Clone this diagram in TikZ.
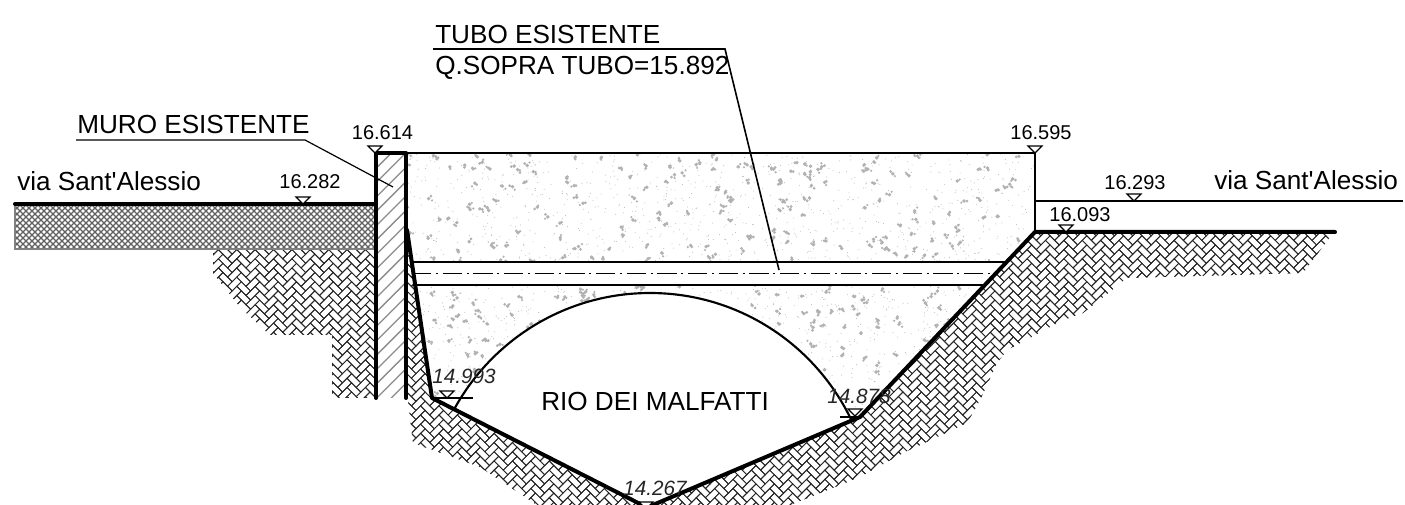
\documentclass[tikz,border=0pt]{standalone}
\usepackage{fontspec}
\setmainfont{Liberation Sans}[Ligatures=TeXOff]
\tikzset{
  x=0.75pt,y=-0.75pt,
  heavy/.style={line width=3pt,line cap=round,line join=round,black},
  medium/.style={line width=1.6pt,black},
  fine/.style={line width=0.9pt,black},
  brick/.style={line width=0.62pt,black!85},
  lab/.style={inner sep=0pt,anchor=base west,font=\fontsize{19.6pt}{22pt}\selectfont},
  elev/.style={inner sep=0pt,anchor=center,font=\fontsize{15pt}{17pt}\selectfont},
  elevit/.style={inner sep=0pt,anchor=center,text=black!85,font=\fontsize{15.5pt}{17pt}\selectfont\itshape},
  levmark/.style={line width=0.9pt,black,fill=white},
}
\newcommand{\levtri}[2]{\draw[levmark] ({#1-7},{#2-7}) -- ({#1+7},{#2-7}) -- (#1,#2) -- cycle;}
\newcommand{\bricks}{%
  \foreach \i in {0,...,62}{\foreach \j in {0,...,33}{%
    \path[brick,draw] ({200+18.38*\i},{222+9.19*\j}) -- ++(9.19,9.19) -- ++(4.6,-4.6) -- ++(-9.19,-9.19) -- cycle;
    \path[brick,draw] ({200+18.38*\i+9.19},{222+9.19*\j+9.19}) -- ++(9.19,-9.19) -- ++(4.6,4.6) -- ++(-9.19,9.19) -- cycle;
  }}}
\begin{document}
\begin{tikzpicture}
\useasboundingbox (0,0) rectangle (1405,505);
\fill[white] (0,0) rectangle (1405,505);
% key points
\coordinate (wallTL) at (376,153);
\coordinate (wallTR) at (406,153);
\coordinate (wallBL) at (376,398);
\coordinate (wallBR) at (406,398);
\coordinate (kink) at (407,230);
\coordinate (bankL) at (432,398);
\coordinate (apex) at (647,507.5);
\coordinate (bankR) at (860,417);
\coordinate (crest) at (1035,232);
\coordinate (crestTop) at (1035,153);
\coordinate (toeEnd) at (1335,232);
% concrete
\begin{scope}
\clip (wallTR) -- (crestTop) -- (crest) -- (bankR) -- (apex) -- (bankL) -- (kink) -- cycle;
\pgfmathsetseed{11}
\fill[black!28] foreach \n in {1,...,2200}{ ({405+rnd*635},{153+rnd*270}) circle[radius=0.5] };
\fill[black!30] foreach \n in {1,...,480}{
  ({405+rnd*635},{153+rnd*270}) coordinate (p)
  (p) circle[radius=1.9]
  (p) ++({rnd*6-3},{rnd*6-3}) circle[radius=1.5]
  (p) ++({rnd*7-3.5},{rnd*7-3.5}) circle[radius=1.2] };
\fill[white] (650,516) circle[radius=223];
\draw[medium] (650,516) circle[radius=223];
\end{scope}
% pipe
\coordinate (pipeTL) at (411,262);
\coordinate (pipeTR) at (1007,262);
\coordinate (pipeBL) at (413,285);
\coordinate (pipeBR) at (985,285);
\coordinate (pipeCL) at (412,273.5);
\coordinate (pipeCR) at (997,273.5);
\fill[white] (pipeTL) -- (pipeTR) -- (pipeBR) -- (pipeBL) -- cycle;
\draw[medium] (pipeTL) -- (pipeTR);
\draw[medium] (pipeBL) -- (pipeBR);
\draw[fine,dash pattern=on 14.5pt off 3.5pt on 1.5pt off 3.5pt] (pipeCL) -- (pipeCR);
% soil hatch
\begin{scope}
\clip (213,250) -- (213,273) -- (240,307) -- (270,335) -- (332,335) -- (332,398) -- (375,398) -- (375,250) -- cycle
 (408,235) -- (408,400) -- (413,443) -- (433,450) -- (480,467) -- (537,505) -- (790,505) -- (860,477) -- (903,453) -- (967,423) -- (980,400) -- (997,363) -- (1007,350) -- (1063,320) -- (1083,313) -- (1127,278) -- (1303,273) -- (1333,233) -- (crest) -- (bankR) -- (apex) -- (bankL) -- cycle;
\bricks
\end{scope}
% road
\begin{scope}
\clip (15,204) rectangle (375,249);
\foreach \k in {0,...,72}{
  \draw[line width=0.95pt,black!62] ({15-50+\k*6},204) -- ++(50,50);
  \draw[line width=0.95pt,black!62] ({15-50+\k*6},254) -- ++(50,-50);
}
\end{scope}
\draw[line width=1pt,black!50] (15,204) -- (15,249) -- (375,249);
% wall hatch
\begin{scope}
\clip (wallTL) rectangle (wallBR);
\foreach \k in {0,...,22}{
  \draw[line width=1pt,black!45] ({120+\k*14.4},410) -- ++(270,-270);
}
\end{scope}
% main outlines
\draw[heavy] (wallBL) -- (wallTL) -- (wallTR) -- (wallBR);
\draw[line width=2pt,black] (wallTR) -- (crestTop) -- (crest);
\draw[heavy] (15,204) -- (wallTL |- 0,204);
\draw[heavy] (kink) -- (bankL) -- (apex) -- (bankR) -- (crest) -- (toeEnd);
\draw[line width=2pt,black] (1035,201) -- (1403,201);
% leaders
\coordinate (muroA) at (76,140); \coordinate (muroB) at (305,140); \coordinate (muroC) at (393,187);
\draw[fine] (muroA) -- (muroB) -- (muroC);
\coordinate (tuboA) at (433,49); \coordinate (tuboB) at (725,49); \coordinate (tuboC) at (779,270);
\draw[line width=1.2pt] (tuboA) -- (tuboB) -- (tuboC);
% level marks
\levtri{375}{153}
\levtri{303}{204}
\levtri{1035}{153}
\levtri{1134}{201}
\levtri{1066}{232}
\levtri{447}{398}
\draw[fine] (bankL) -- (473,398);
\levtri{855}{416}
\draw[fine] (840,417) -- (862,417);
\levtri{646}{509}
% texts
\node[lab] (muro) at (77,134) {MURO ESISTENTE};
\node[lab] (tubo) at (435,43.5) {TUBO ESISTENTE};
\node[lab] (qs) at (435,74.5) {Q.SOPRA TUBO=15.892};
\node[lab] (viaL) at (17,191) {via Sant'Alessio};
\node[lab] (viaR) at (1214,190) {via Sant'Alessio};
\node[lab] (rio) at (541,411) {RIO DEI MALFATTI};
\node[elev] (e1) at (382.5,133) {16.614};
\node[elev] (e2) at (310,182) {16.282};
\node[elev] (e3) at (1041,133) {16.595};
\node[elev] (e4) at (1135,183) {16.293};
\node[elev] (e5) at (1080,215) {16.093};
\node[elevit] (e6) at (464,376) {14.993};
\node[elevit] (e7) at (859,396) {14.878};
\node[elevit] (e8) at (655,488) {14.267};
\end{tikzpicture}
\end{document}
